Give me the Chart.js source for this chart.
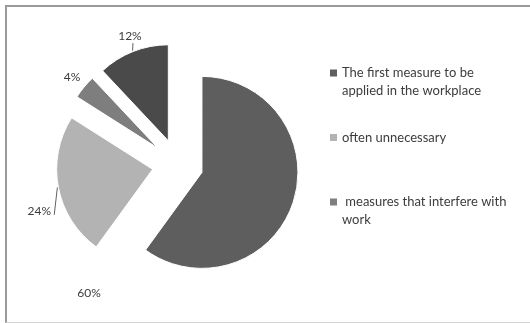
<!DOCTYPE html>
<html>
<head>
<meta charset="utf-8">
<script src="https://cdn.jsdelivr.net/npm/chart.js@4"></script>
<style>
  html, body { margin: 0; padding: 0; background: #fff; }
  #wrap { position: relative; width: 530px; height: 323px; overflow: hidden; }
  #frame {
    position: absolute; left: 5px; top: 5px; width: 540px; height: 315px;
    border-top: 2px solid #9a9a9a; border-left: 2px solid #9a9a9a;
    border-bottom: 1px solid #d4d4d4;
  }
  #chart { position: absolute; left: 0; top: 0; }
</style>
</head>
<body>
<div id="wrap">
  <div id="frame"></div>
  <canvas id="chart" width="530" height="323"></canvas>
</div>
<script>
// slices, clockwise from 12 o'clock
const labels = [
  ['The first measure to be', 'applied in the workplace'],
  ['often unnecessary'],
  [' measures that interfere with', 'work'],
  ['']
];
const values = [60, 24, 4, 12];
const colours = ['#5e5e5e', '#b3b3b3', '#7e7e7e', '#4a4a4a'];

const explode = 25.5;
// where each percentage sits: [degrees clockwise from top, distance from centre]
const labelSpots = [[214.6, 156], [251.5, 146], [309.6, 137], [339.6, 137]];
// leader lines: slice index -> end point relative to the label centre
const leaders = {3: [3, 7], 1: [15, 4]};

const explodePlugin = {
  id: 'explode',
  afterDatasetUpdate(chart, args) {
    const meta = chart.getDatasetMeta(args.index);
    meta.data.forEach((arc) => {
      const mid = (arc.startAngle + arc.endAngle) / 2;
      arc.x += Math.cos(mid) * explode;
      arc.y += Math.sin(mid) * explode;
    });
  }
};

const textPlugin = {
  id: 'pieText',
  afterDatasetsDraw(chart) {
    const ctx = chart.ctx;
    const area = chart.chartArea;
    const cx = (area.left + area.right) / 2;
    const cy = (area.top + area.bottom) / 2;
    const arcs = chart.getDatasetMeta(0).data;
    ctx.save();
    ctx.font = '12px Lato';
    ctx.fillStyle = '#3c3c3c';
    ctx.textAlign = 'center';
    ctx.textBaseline = 'middle';
    values.forEach((v, i) => {
      const a = labelSpots[i][0] * Math.PI / 180;
      const lx = cx + Math.sin(a) * labelSpots[i][1];
      const ly = cy - Math.cos(a) * labelSpots[i][1];
      ctx.fillText(v + '%', lx, ly);
      if (leaders[i]) {
        const arc = arcs[i];
        const mid = (arc.startAngle + arc.endAngle) / 2;
        ctx.beginPath();
        ctx.strokeStyle = '#606060';
        ctx.lineWidth = 1;
        ctx.moveTo(arc.x + Math.cos(mid) * (arc.outerRadius + 1), arc.y + Math.sin(mid) * (arc.outerRadius + 1));
        ctx.lineTo(lx + leaders[i][0], ly + leaders[i][1]);
        ctx.stroke();
      }
    });

    // legend, one entry per named slice
    ctx.textAlign = 'left';
    ctx.font = '13px Lato';
    let row = 0;
    labels.forEach((lines, i) => {
      if (!lines[0]) return;
      const y = 73 + row * 64.5;
      ctx.fillStyle = colours[i];
      ctx.fillRect(330, y - 3.5, 7, 7);
      ctx.fillStyle = '#3c3c3c';
      lines.forEach((t, k) => ctx.fillText(t, 342, y + k * 18));
      row++;
    });
    ctx.restore();
  }
};

new Chart(document.getElementById('chart'), {
  type: 'pie',
  data: {
    labels: labels,
    datasets: [{
      data: values,
      backgroundColor: colours,
      borderColor: '#ffffff',
      borderWidth: 1,
      radius: 96
    }]
  },
  options: {
    responsive: false,
    animation: false,
    layout: {padding: {left: 60, right: 234.6, top: 40, bottom: 34}},
    plugins: {legend: {display: false}, tooltip: {enabled: false}}
  },
  plugins: [explodePlugin, textPlugin]
});
</script>
</body>
</html>
